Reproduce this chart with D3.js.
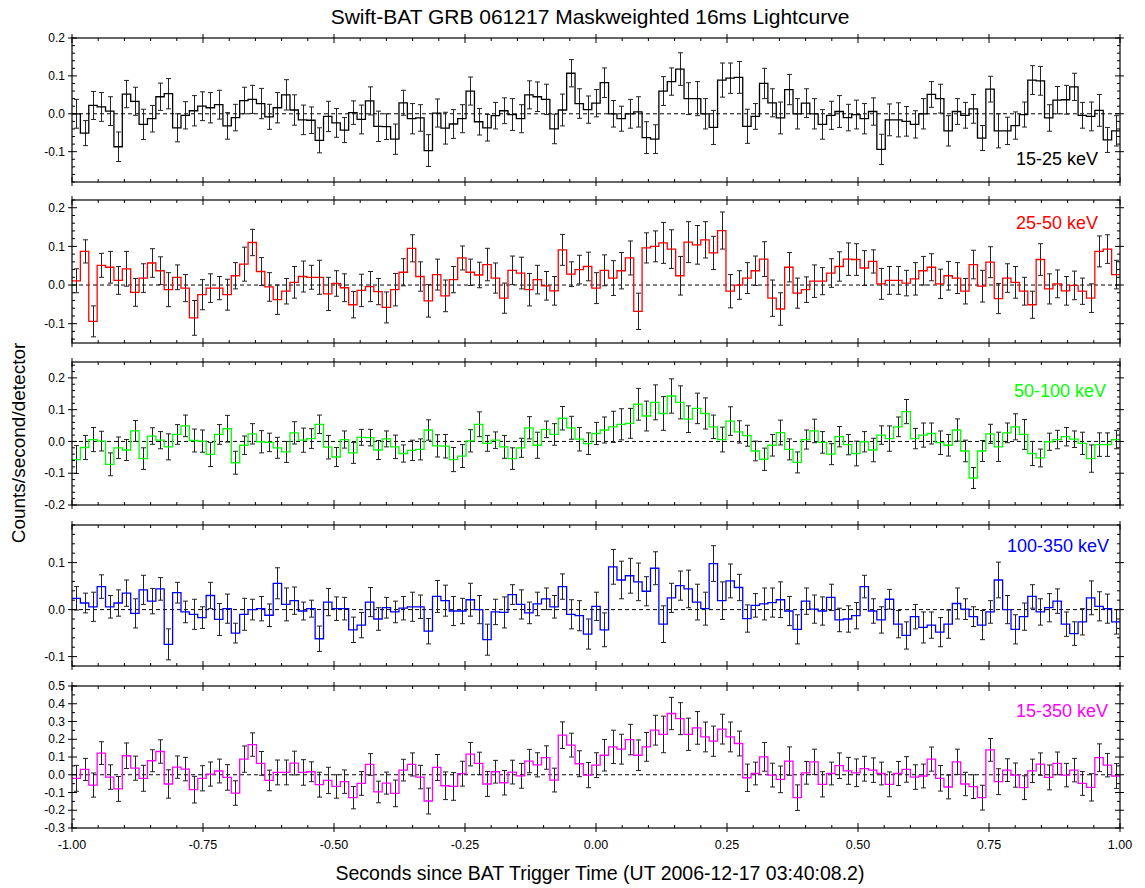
<!DOCTYPE html>
<html>
<head>
<meta charset="utf-8">
<script src="https://cdn.jsdelivr.net/npm/d3@7/dist/d3.min.js"></script>
<style>
body { margin: 0; background: #fff; }
svg { display: block; }
text { font-family: Arial, "Liberation Sans", sans-serif; fill: #000; }
</style>
</head>
<body>
<svg id="vis" width="1145" height="888"></svg>
<script>
// 16 ms bins starting at -1.000 s
var binStart = -1.0;
var binWidth = 0.016;

var bands = ["15-25 keV", "25-50 keV", "50-100 keV", "100-350 keV", "15-350 keV"];

// counts/second/detector, one value per bin (125 bins)
var rate_15_25 = [
  0.000, -0.051, 0.022, 0.018, 0.007, -0.087, 0.052, 0.033, -0.028, -0.013,
  0.045, 0.053, -0.037, -0.004, 0.008, 0.020, 0.016, 0.024, -0.032, -0.010,
  0.035, 0.038, 0.027, -0.008, 0.016, 0.050, 0.010, -0.016, -0.017, -0.070,
  -0.007, -0.024, -0.043, 0.003, -0.015, 0.034, -0.033, -0.034, -0.067, 0.029,
  -0.013, -0.011, -0.097, 0.002, -0.038, -0.027, -0.013, 0.060, -0.021, -0.037,
  -0.005, 0.008, -0.002, -0.013, 0.050, 0.045, 0.038, -0.040, 0.010, 0.107,
  0.027, 0.011, 0.028, 0.082, 0.000, -0.013, 0.000, 0.005, -0.063, -0.067,
  0.060, 0.085, 0.118, 0.040, 0.040, 0.000, -0.036, 0.089, 0.094, 0.096,
  -0.033, -0.007, 0.080, 0.029, -0.011, 0.064, 0.000, 0.028, 0.000, -0.028,
  -0.004, 0.006, -0.010, -0.002, -0.013, 0.006, -0.094, -0.016, -0.016, -0.020,
  -0.028, 0.000, 0.051, 0.040, -0.045, 0.006, -0.004, 0.013, -0.064, 0.065,
  -0.045, -0.045, -0.031, -0.002, 0.089, 0.087, -0.011, 0.036, 0.037, 0.071,
  -0.004, -0.007, 0.009, -0.069, -0.045
];
var err_15_25 = [
  0.038, 0.033, 0.037, 0.038, 0.038, 0.039, 0.036, 0.037, 0.040, 0.035,
  0.036, 0.040, 0.037, 0.036, 0.040, 0.038, 0.040, 0.038, 0.035, 0.035,
  0.035, 0.037, 0.040, 0.033, 0.040, 0.040, 0.040, 0.039, 0.035, 0.033,
  0.040, 0.038, 0.033, 0.031, 0.038, 0.037, 0.040, 0.034, 0.040, 0.033,
  0.040, 0.035, 0.042, 0.037, 0.042, 0.038, 0.037, 0.037, 0.035, 0.035,
  0.035, 0.034, 0.042, 0.037, 0.037, 0.039, 0.040, 0.039, 0.042, 0.036,
  0.039, 0.036, 0.036, 0.039, 0.035, 0.033, 0.038, 0.040, 0.042, 0.038,
  0.038, 0.036, 0.043, 0.042, 0.045, 0.040, 0.045, 0.045, 0.040, 0.042,
  0.045, 0.034, 0.040, 0.037, 0.042, 0.040, 0.040, 0.038, 0.040, 0.039,
  0.037, 0.042, 0.035, 0.038, 0.040, 0.036, 0.040, 0.042, 0.045, 0.039,
  0.036, 0.040, 0.034, 0.038, 0.040, 0.034, 0.034, 0.038, 0.033, 0.034,
  0.045, 0.036, 0.036, 0.033, 0.038, 0.038, 0.035, 0.036, 0.038, 0.036,
  0.034, 0.038, 0.042, 0.033, 0.040
];

var rate_25_50 = [
  0.011, 0.087, -0.094, 0.051, 0.046, 0.012, 0.042, -0.019, 0.018, 0.057,
  0.037, -0.012, 0.020, -0.008, -0.085, -0.025, -0.008, -0.008, -0.025, 0.024,
  0.054, 0.110, 0.035, -0.005, -0.038, -0.016, 0.007, 0.022, 0.020, 0.020,
  -0.023, 0.004, -0.007, -0.051, -0.014, -0.004, -0.017, -0.058, -0.012, 0.033,
  0.095, 0.022, -0.041, 0.027, -0.028, 0.014, 0.070, 0.033, 0.026, 0.053,
  0.018, -0.034, 0.038, 0.031, -0.012, 0.014, -0.002, -0.015, 0.091, 0.028,
  0.040, 0.048, -0.008, 0.038, 0.018, 0.037, 0.070, -0.068, 0.096, 0.100,
  0.109, 0.093, 0.024, 0.111, 0.104, 0.117, 0.083, 0.141, -0.016, 0.000,
  0.018, 0.037, 0.067, -0.034, -0.062, 0.046, -0.021, -0.012, 0.010, 0.010,
  0.031, 0.048, 0.067, 0.066, 0.044, 0.061, 0.003, 0.012, 0.012, 0.005,
  0.016, 0.037, 0.046, 0.003, 0.024, 0.018, -0.016, 0.053, -0.003, 0.059,
  -0.035, 0.018, 0.007, -0.016, -0.051, 0.066, -0.010, 0.003, -0.015, -0.001,
  -0.016, -0.034, 0.087, 0.093, 0.027
];
var err_25_50 = [
  0.031, 0.030, 0.040, 0.031, 0.041, 0.036, 0.045, 0.036, 0.037, 0.037,
  0.036, 0.044, 0.032, 0.035, 0.045, 0.039, 0.037, 0.030, 0.040, 0.034,
  0.044, 0.034, 0.036, 0.037, 0.038, 0.033, 0.041, 0.040, 0.031, 0.044,
  0.043, 0.033, 0.036, 0.034, 0.042, 0.039, 0.034, 0.040, 0.042, 0.035,
  0.035, 0.038, 0.042, 0.040, 0.041, 0.034, 0.031, 0.034, 0.033, 0.042,
  0.039, 0.039, 0.037, 0.041, 0.042, 0.037, 0.037, 0.037, 0.040, 0.032,
  0.037, 0.037, 0.040, 0.040, 0.045, 0.047, 0.044, 0.047, 0.039, 0.040,
  0.053, 0.050, 0.050, 0.053, 0.050, 0.047, 0.043, 0.048, 0.043, 0.037,
  0.040, 0.038, 0.045, 0.047, 0.042, 0.038, 0.039, 0.033, 0.042, 0.035,
  0.037, 0.038, 0.042, 0.041, 0.045, 0.030, 0.040, 0.036, 0.036, 0.033,
  0.042, 0.037, 0.035, 0.038, 0.037, 0.040, 0.033, 0.037, 0.041, 0.040,
  0.039, 0.037, 0.041, 0.036, 0.035, 0.041, 0.039, 0.036, 0.037, 0.037,
  0.034, 0.037, 0.040, 0.037, 0.037
];

var rate_50_100 = [
  -0.057, -0.019, 0.006, 0.001, -0.072, -0.020, -0.027, 0.033, -0.054, 0.017,
  0.004, -0.017, 0.022, 0.049, 0.003, 0.001, -0.041, 0.022, 0.040, -0.067,
  -0.012, 0.024, -0.001, -0.003, -0.020, -0.033, 0.027, 0.004, 0.009, 0.054,
  -0.018, -0.049, 0.006, -0.036, 0.013, 0.012, -0.027, 0.008, -0.017, -0.038,
  -0.028, -0.025, 0.036, -0.014, -0.015, -0.057, -0.046, 0.002, 0.054, -0.006,
  0.004, -0.017, -0.054, -0.020, 0.043, -0.012, 0.038, 0.022, 0.073, 0.043,
  0.007, -0.007, 0.025, 0.036, 0.046, 0.054, 0.057, 0.117, 0.080, 0.123,
  0.088, 0.143, 0.123, 0.070, 0.104, 0.088, 0.046, 0.006, 0.064, 0.030,
  0.018, -0.030, -0.056, -0.012, 0.028, -0.025, -0.066, 0.006, 0.033, -0.003,
  -0.040, 0.015, -0.010, -0.038, -0.001, -0.027, 0.020, 0.009, 0.046, 0.094,
  0.009, 0.020, 0.025, -0.004, -0.012, 0.036, -0.030, -0.115, -0.030, 0.024,
  -0.017, 0.027, 0.046, 0.022, -0.038, -0.052, -0.001, 0.006, 0.015, 0.007,
  -0.006, -0.054, -0.010, -0.010, 0.006
];
var err_50_100 = [
  0.044, 0.038, 0.038, 0.031, 0.036, 0.034, 0.033, 0.033, 0.034, 0.026,
  0.027, 0.041, 0.031, 0.034, 0.036, 0.035, 0.038, 0.031, 0.042, 0.036,
  0.029, 0.032, 0.035, 0.029, 0.033, 0.033, 0.035, 0.038, 0.031, 0.029,
  0.037, 0.030, 0.027, 0.033, 0.025, 0.026, 0.030, 0.025, 0.037, 0.027,
  0.032, 0.033, 0.032, 0.035, 0.037, 0.038, 0.036, 0.035, 0.039, 0.025,
  0.026, 0.036, 0.034, 0.030, 0.035, 0.041, 0.026, 0.034, 0.037, 0.036,
  0.037, 0.034, 0.035, 0.041, 0.049, 0.049, 0.047, 0.050, 0.047, 0.055,
  0.053, 0.054, 0.052, 0.042, 0.048, 0.049, 0.037, 0.039, 0.045, 0.035,
  0.033, 0.031, 0.035, 0.034, 0.039, 0.033, 0.033, 0.030, 0.037, 0.034,
  0.033, 0.032, 0.032, 0.039, 0.032, 0.037, 0.029, 0.040, 0.031, 0.038,
  0.032, 0.038, 0.033, 0.037, 0.034, 0.035, 0.034, 0.033, 0.033, 0.030,
  0.046, 0.031, 0.041, 0.047, 0.038, 0.028, 0.027, 0.029, 0.029, 0.026,
  0.035, 0.043, 0.037, 0.037, 0.029
];

var rate_100_350 = [
  0.024, 0.014, 0.006, 0.049, 0.006, 0.014, 0.035, -0.008, 0.042, 0.018,
  0.044, -0.074, 0.036, -0.005, -0.010, -0.017, 0.030, -0.021, 0.002, -0.050,
  -0.010, 0.000, 0.002, -0.012, 0.056, 0.011, 0.019, -0.003, 0.002, -0.062,
  0.016, 0.002, 0.002, -0.043, -0.033, 0.016, -0.020, 0.004, -0.005, 0.003,
  0.006, 0.006, -0.046, 0.028, 0.019, -0.003, -0.003, 0.021, 0.000, -0.064,
  -0.005, -0.006, 0.032, 0.011, -0.007, 0.012, 0.023, 0.006, 0.049, -0.010,
  -0.013, -0.052, 0.007, -0.043, 0.091, 0.063, 0.072, 0.059, 0.039, 0.088,
  -0.031, 0.025, 0.051, 0.044, 0.016, 0.002, 0.098, 0.019, 0.061, 0.047,
  -0.019, 0.009, 0.012, 0.015, 0.021, -0.003, -0.042, 0.018, 0.001, -0.003,
  0.026, -0.022, -0.020, -0.013, 0.049, -0.003, -0.022, 0.022, -0.031, -0.055,
  -0.015, -0.038, -0.033, -0.048, -0.031, 0.013, 0.001, -0.015, -0.033, -0.005,
  0.063, 0.000, -0.042, -0.015, 0.028, -0.005, 0.004, 0.018, -0.031, -0.051,
  -0.026, 0.025, 0.007, 0.002, -0.026
];
var err_100_350 = [
  0.025, 0.021, 0.031, 0.025, 0.024, 0.028, 0.028, 0.031, 0.031, 0.027,
  0.024, 0.033, 0.022, 0.023, 0.032, 0.023, 0.028, 0.034, 0.031, 0.021,
  0.034, 0.022, 0.026, 0.024, 0.033, 0.035, 0.029, 0.019, 0.018, 0.027,
  0.029, 0.025, 0.024, 0.027, 0.027, 0.031, 0.024, 0.022, 0.023, 0.025,
  0.031, 0.025, 0.027, 0.034, 0.033, 0.031, 0.027, 0.035, 0.030, 0.033,
  0.027, 0.033, 0.021, 0.031, 0.023, 0.025, 0.023, 0.024, 0.027, 0.031,
  0.032, 0.032, 0.030, 0.036, 0.037, 0.040, 0.037, 0.040, 0.031, 0.035,
  0.039, 0.031, 0.031, 0.040, 0.038, 0.035, 0.038, 0.040, 0.036, 0.028,
  0.029, 0.025, 0.034, 0.031, 0.038, 0.031, 0.031, 0.028, 0.030, 0.030,
  0.028, 0.025, 0.028, 0.028, 0.024, 0.026, 0.028, 0.021, 0.029, 0.029,
  0.026, 0.033, 0.028, 0.031, 0.030, 0.033, 0.022, 0.021, 0.031, 0.024,
  0.038, 0.030, 0.031, 0.029, 0.025, 0.028, 0.030, 0.026, 0.026, 0.025,
  0.028, 0.036, 0.031, 0.031, 0.026
];

var rate_15_350 = [
  -0.020, 0.030, -0.058, 0.122, -0.013, -0.080, 0.107, 0.037, -0.020, 0.079,
  0.131, -0.052, 0.043, 0.032, -0.084, -0.020, 0.004, 0.021, -0.015, -0.103,
  0.088, 0.170, 0.064, -0.032, 0.013, 0.013, 0.066, 0.013, 0.017, -0.056,
  -0.032, -0.066, -0.039, -0.129, -0.049, 0.058, -0.097, -0.047, -0.105, 0.026,
  0.058, -0.013, -0.148, 0.041, -0.062, -0.066, 0.006, 0.116, 0.064, -0.052,
  0.017, -0.045, 0.015, -0.006, 0.077, 0.056, 0.097, -0.030, 0.223, 0.167,
  0.062, -0.002, 0.054, 0.110, 0.157, 0.144, 0.198, 0.110, 0.157, 0.251,
  0.227, 0.345, 0.316, 0.228, 0.264, 0.213, 0.189, 0.257, 0.213, 0.176,
  -0.017, 0.007, 0.101, -0.002, -0.026, 0.077, -0.129, 0.011, 0.073, -0.054,
  0.007, 0.051, 0.022, 0.011, 0.034, 0.026, 0.007, -0.054, 0.007, 0.030,
  -0.013, -0.007, 0.088, -0.020, -0.069, 0.073, -0.052, -0.067, -0.129, 0.140,
  -0.039, 0.026, -0.002, -0.073, 0.022, 0.060, -0.015, 0.064, -0.002, 0.026,
  -0.049, -0.071, 0.096, 0.054, -0.007
];
var err_15_350 = [
  0.073, 0.062, 0.068, 0.064, 0.069, 0.070, 0.072, 0.068, 0.073, 0.062,
  0.066, 0.080, 0.063, 0.066, 0.075, 0.071, 0.068, 0.067, 0.072, 0.069,
  0.074, 0.066, 0.067, 0.058, 0.070, 0.070, 0.067, 0.072, 0.056, 0.070,
  0.074, 0.066, 0.066, 0.063, 0.067, 0.061, 0.061, 0.062, 0.075, 0.061,
  0.065, 0.066, 0.073, 0.073, 0.078, 0.078, 0.070, 0.066, 0.063, 0.070,
  0.064, 0.069, 0.067, 0.070, 0.066, 0.068, 0.066, 0.067, 0.075, 0.067,
  0.073, 0.071, 0.070, 0.089, 0.094, 0.084, 0.086, 0.086, 0.081, 0.084,
  0.103, 0.091, 0.090, 0.091, 0.092, 0.084, 0.085, 0.084, 0.084, 0.070,
  0.077, 0.064, 0.081, 0.067, 0.075, 0.080, 0.072, 0.064, 0.071, 0.071,
  0.064, 0.072, 0.076, 0.078, 0.070, 0.069, 0.064, 0.070, 0.068, 0.072,
  0.069, 0.067, 0.068, 0.072, 0.067, 0.071, 0.066, 0.067, 0.070, 0.064,
  0.073, 0.064, 0.068, 0.067, 0.066, 0.063, 0.070, 0.064, 0.066, 0.066,
  0.067, 0.077, 0.078, 0.066, 0.070
];

var xTickLabels = ["-1.00", "-0.75", "-0.50", "-0.25", "0.00", "0.25", "0.50", "0.75", "1.00"];

// layout
var left = 72, right = 1120;
var panels = [
  { band: bands[0], rate: rate_15_25,   err: err_15_25,   color: "#000000", top: 38,  bottom: 182, dom: [-0.18, 0.20], minor: 0.02, lx: 1098, ly: 165 },
  { band: bands[1], rate: rate_25_50,   err: err_25_50,   color: "#ff0000", top: 200, bottom: 343, dom: [-0.15, 0.22], minor: 0.02, lx: 1098, ly: 229 },
  { band: bands[2], rate: rate_50_100,  err: err_50_100,  color: "#00ff00", top: 362, bottom: 505, dom: [-0.20, 0.25], minor: 0.02, lx: 1106, ly: 397 },
  { band: bands[3], rate: rate_100_350, err: err_100_350, color: "#0000ff", top: 525, bottom: 666, dom: [-0.12, 0.18], minor: 0.02, lx: 1109, ly: 552 },
  { band: bands[4], rate: rate_15_350,  err: err_15_350,  color: "#ff00ff", top: 686, bottom: 828, dom: [-0.30, 0.50], minor: 0.05, lx: 1108, ly: 717 }
];

var svg = d3.select("#vis");

var x = d3.scaleLinear().domain([-1, 1]).range([left, right]);

svg.append("text")
  .attr("x", 590).attr("y", 24)
  .attr("text-anchor", "middle")
  .attr("font-size", "21px")
  .text("Swift-BAT GRB 061217 Maskweighted 16ms Lightcurve");

panels.forEach(function(p, pi) {
  var y = d3.scaleLinear().domain(p.dom).range([p.bottom, p.top]);
  var g = svg.append("g");

  // zero line
  g.append("line")
    .attr("x1", left).attr("x2", right)
    .attr("y1", y(0)).attr("y2", y(0))
    .attr("stroke", "#000").attr("stroke-width", 1)
    .attr("stroke-dasharray", "4,3");

  // error bars
  var bars = g.append("g").attr("stroke", "#222").attr("stroke-width", 1);
  p.rate.forEach(function(v, i) {
    var xc = Math.round(x(binStart + (i + 0.5) * binWidth)) + 0.5;
    var e = p.err[i];
    bars.append("line").attr("x1", xc).attr("x2", xc).attr("y1", y(v - e)).attr("y2", y(v + e));
    bars.append("line").attr("x1", xc - 2.5).attr("x2", xc + 2.5).attr("y1", y(v - e)).attr("y2", y(v - e));
    bars.append("line").attr("x1", xc - 2.5).attr("x2", xc + 2.5).attr("y1", y(v + e)).attr("y2", y(v + e));
  });

  // histogram steps
  var pts = p.rate.map(function(v, i) { return [binStart + i * binWidth, v]; });
  pts.push([binStart + p.rate.length * binWidth, p.rate[p.rate.length - 1]]);
  var line = d3.line()
    .x(function(d) { return x(d[0]); })
    .y(function(d) { return y(d[1]); })
    .curve(d3.curveStepAfter);
  g.append("path")
    .attr("d", line(pts))
    .attr("fill", "none")
    .attr("stroke", p.color)
    .attr("stroke-width", 1.3);

  // frame
  g.append("rect")
    .attr("x", left).attr("y", p.top)
    .attr("width", right - left).attr("height", p.bottom - p.top)
    .attr("fill", "none").attr("stroke", "#000").attr("stroke-width", 1.2);

  var ticks = g.append("g").attr("stroke", "#000").attr("stroke-width", 1);

  // x ticks on top and bottom, every 0.05, major every 0.25
  d3.range(0, 41).forEach(function(k) {
    var xv = x(-1 + k * 0.05);
    var major = k % 5 === 0;
    var tin = major ? 5 : 3, tout = major ? 4 : 0;
    ticks.append("line").attr("x1", xv).attr("x2", xv).attr("y1", p.bottom + tout).attr("y2", p.bottom - tin);
    ticks.append("line").attr("x1", xv).attr("x2", xv).attr("y1", p.top - tout).attr("y2", p.top + tin);
  });

  // y ticks on left and right
  var step = p.minor;
  var per = Math.round(0.1 / step);
  var k0 = Math.ceil(p.dom[0] / step - 1e-6), k1 = Math.floor(p.dom[1] / step + 1e-6);
  d3.range(k0, k1 + 1).forEach(function(k) {
    var v = k * step;
    var yv = y(v);
    var major = k % per === 0;
    var tin = major ? 5 : 3, tout = major ? 4 : 0;
    ticks.append("line").attr("x1", left - tout).attr("x2", left + tin).attr("y1", yv).attr("y2", yv);
    ticks.append("line").attr("x1", right + tout).attr("x2", right - tin).attr("y1", yv).attr("y2", yv);
    if (major) {
      var t = (Math.abs(v) < 1e-9 ? 0 : v).toFixed(1);
      g.append("text")
        .attr("x", left - 7).attr("y", yv)
        .attr("dy", "0.35em")
        .attr("text-anchor", "end")
        .attr("font-size", "12px")
        .text(t);
    }
  });

  // band label
  g.append("text")
    .attr("x", p.lx).attr("y", p.ly)
    .attr("text-anchor", "end")
    .attr("font-size", "18px")
    .style("fill", p.color)
    .text(p.band);

  // x tick labels under the last panel
  if (pi === panels.length - 1) {
    xTickLabels.forEach(function(lab) {
      g.append("text")
        .attr("x", x(+lab)).attr("y", p.bottom + 21)
        .attr("text-anchor", "middle")
        .attr("font-size", "12.5px")
        .text(lab);
    });
  }
});

svg.append("text")
  .attr("transform", "translate(25,443) rotate(-90)")
  .attr("text-anchor", "middle")
  .attr("font-size", "19px")
  .text("Counts/second/detector");

svg.append("text")
  .attr("x", 600).attr("y", 880)
  .attr("text-anchor", "middle")
  .attr("font-size", "19.5px")
  .text("Seconds since BAT Trigger Time (UT 2006-12-17 03:40:08.2)");
</script>
</body>
</html>
